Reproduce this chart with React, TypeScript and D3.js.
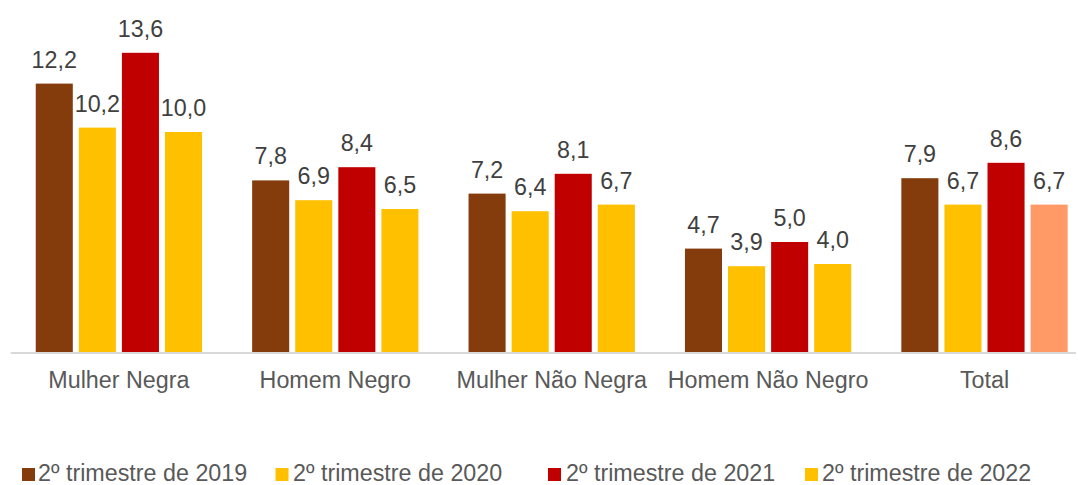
import React from "react";
import * as d3 from "d3";

const categories = ["Mulher Negra", "Homem Negro", "Mulher Não Negra", "Homem Não Negro", "Total"];
const seriesNames = ["2º trimestre de 2019", "2º trimestre de 2020", "2º trimestre de 2021", "2º trimestre de 2022"];
const values2019 = [12.2, 7.8, 7.2, 4.7, 7.9];
const values2020 = [10.2, 6.9, 6.4, 3.9, 6.7];
const values2021 = [13.6, 8.4, 8.1, 5.0, 8.6];
const values2022 = [10.0, 6.5, 6.7, 4.0, 6.7];
const seriesValues = [values2019, values2020, values2021, values2022];
const seriesColors = ["#843C0C", "#FFC000", "#C00000", "#FFC000"];
const highlightColor = "#FF9A66";

const W = 1078;
const H = 485;
const FONT = "'Liberation Sans', Arial, sans-serif";
const FS = 23.3;

export default function App() {
  const x0 = d3
    .scaleBand<string>()
    .domain(categories)
    .range([10.7, 1092.7])
    .paddingInner(0.2315)
    .paddingOuter(0.11575);
  const x1 = d3
    .scaleBand<number>()
    .domain([0, 1, 2, 3])
    .range([0, x0.bandwidth()])
    .paddingInner(0.14)
    .paddingOuter(0);
  const y = d3.scaleLinear().domain([0, 14]).range([352, 44]);

  const fmt = (v: number) => d3.format(".1f")(v).replace(".", ",");

  const legendX = [[22, 38], [275.5, 293], [548, 566], [805, 822]];

  return (
    <svg
      width={W}
      height={H}
      style={{ position: "absolute", left: 0, top: 0, background: "#fff" }}
      fontFamily={FONT}
    >
      <rect x={0} y={0} width={W} height={H} fill="#fff" />
      {categories.map((c, ci) => (
        <g key={c} transform={`translate(${x0(c)},0)`}>
          {seriesValues.map((vals, si) => {
            const v = vals[ci];
            const bx = x1(si)!;
            const bw = x1.bandwidth();
            const fill = c === "Total" && si === 3 ? highlightColor : seriesColors[si];
            return (
              <g key={si}>
                <rect x={bx} y={y(v)} width={bw} height={y(0) - y(v)} fill={fill} />
                <text
                  x={bx + bw / 2}
                  y={y(v) - 16}
                  textAnchor="middle"
                  fontSize={FS}
                  fill="#404040"
                >
                  {fmt(v)}
                </text>
              </g>
            );
          })}
          <text
            x={x0.bandwidth() / 2}
            y={388}
            textAnchor="middle"
            fontSize={FS}
            fill="#595959"
          >
            {c}
          </text>
        </g>
      ))}
      <line x1={10.7} x2={1076} y1={y(0) + 1} y2={y(0) + 1} stroke="#D9D9D9" strokeWidth={2} />
      {seriesNames.map((s, i) => (
        <g key={s}>
          <rect x={legendX[i][0]} y={468} width={13} height={13} fill={seriesColors[i]} />
          <text x={legendX[i][1]} y={480.5} fontSize={FS} fill="#595959">
            {s}
          </text>
        </g>
      ))}
    </svg>
  );
}
